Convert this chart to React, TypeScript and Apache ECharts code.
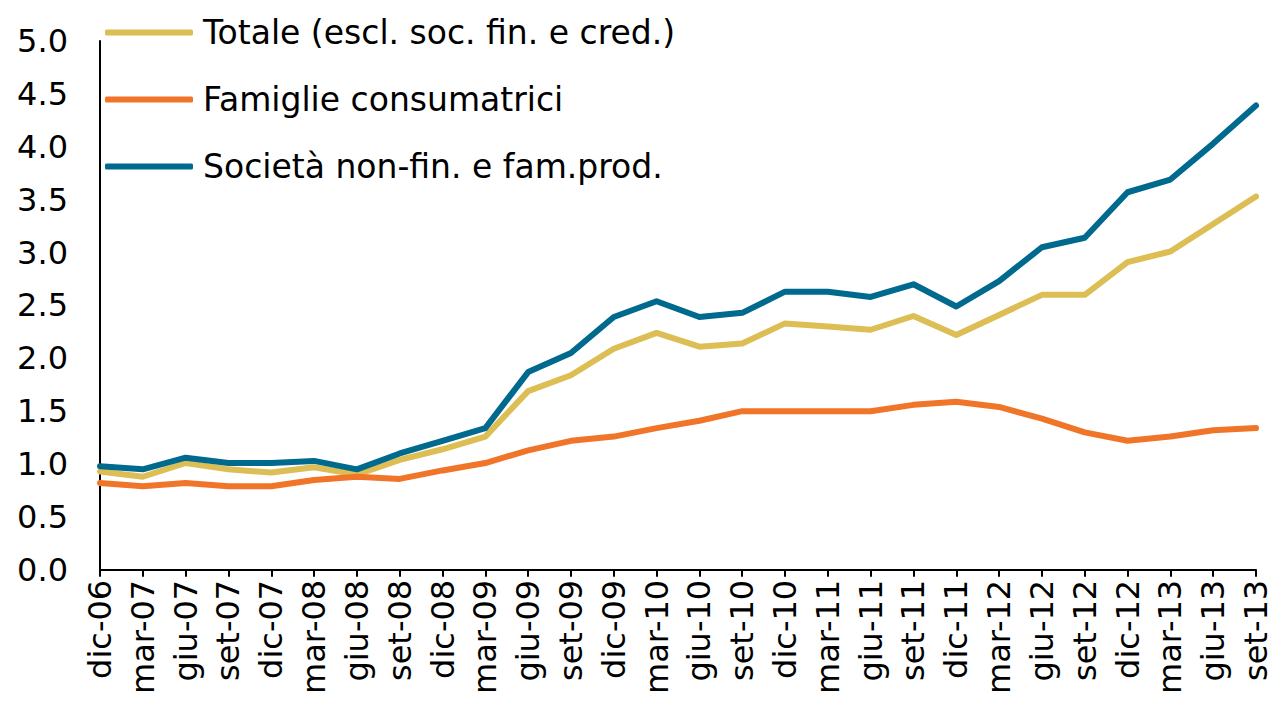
import React, { useEffect, useRef } from "react";
import * as echarts from "echarts";

const categories = [
  "dic-06", "mar-07", "giu-07", "set-07", "dic-07", "mar-08", "giu-08", "set-08",
  "dic-08", "mar-09", "giu-09", "set-09", "dic-09", "mar-10", "giu-10", "set-10",
  "dic-10", "mar-11", "giu-11", "set-11", "dic-11", "mar-12", "giu-12", "set-12",
  "dic-12", "mar-13", "giu-13", "set-13",
];

const totale = [
  0.93, 0.88, 1.01, 0.95, 0.92, 0.97, 0.9, 1.04,
  1.14, 1.26, 1.69, 1.84, 2.09, 2.24, 2.11, 2.14,
  2.33, 2.3, 2.27, 2.4, 2.22, 2.41, 2.6, 2.6,
  2.91, 3.01, 3.27, 3.53,
];

const famiglie = [
  0.82, 0.79, 0.82, 0.79, 0.79, 0.85, 0.88, 0.86,
  0.94, 1.01, 1.13, 1.22, 1.26, 1.34, 1.41, 1.5,
  1.5, 1.5, 1.5, 1.56, 1.59, 1.54, 1.43, 1.3,
  1.22, 1.26, 1.32, 1.34,
];

const societa = [
  0.98, 0.95, 1.06, 1.01, 1.01, 1.03, 0.95, 1.1,
  1.22, 1.34, 1.87, 2.05, 2.39, 2.54, 2.39, 2.43,
  2.63, 2.63, 2.58, 2.7, 2.49, 2.73, 3.05, 3.14,
  3.57, 3.69, 4.03, 4.39,
];

const seriesNames = [
  "Totale (escl. soc. fin. e cred.)",
  "Famiglie consumatrici",
  "Società non-fin. e fam.prod.",
];
const colors = ["#DCBE55", "#F07528", "#006A8E"];

export default function App() {
  const ref = useRef<HTMLDivElement>(null);
  useEffect(() => {
    if (!ref.current) return;
    const chart = echarts.init(ref.current, null, { renderer: "svg" });
    const font = "DejaVu Sans";
    const data = [totale, famiglie, societa];
    chart.setOption({
      animation: false,
      backgroundColor: "#ffffff",
      grid: { left: 92, right: 20, top: 33, bottom: 124 },
      legend: {
        orient: "vertical",
        left: 92,
        top: 3,
        icon: "roundRect",
        itemWidth: 88,
        itemHeight: 6,
        itemGap: 34,
        data: seriesNames,
        textStyle: {
          fontFamily: font,
          fontSize: 33,
          color: "#000",
          lineHeight: 32,
          padding: [0, 0, 0, 5],
        },
      },
      xAxis: {
        type: "category",
        data: categories,
        boundaryGap: false,
        axisLine: { lineStyle: { color: "#000", width: 2 } },
        axisTick: { show: true, length: 7, lineStyle: { color: "#000", width: 2 } },
        axisLabel: {
          rotate: 90,
          interval: 0,
          margin: 10,
          fontFamily: font,
          fontSize: 32,
          color: "#000",
        },
        splitLine: { show: false },
      },
      yAxis: {
        type: "value",
        min: 0,
        max: 5,
        interval: 0.5,
        axisLine: { show: true, lineStyle: { color: "#000", width: 2 } },
        axisTick: { show: false },
        splitLine: { show: false },
        axisLabel: {
          margin: 32,
          fontFamily: font,
          fontSize: 32,
          color: "#000",
          formatter: (v: number) => v.toFixed(1),
        },
      },
      series: seriesNames.map((name, i) => ({
        name,
        type: "line",
        data: data[i],
        showSymbol: false,
        symbol: "none",
        itemStyle: { color: colors[i] },
        lineStyle: { color: colors[i], width: 6, cap: "round", join: "round" },
      })),
    });
    return () => chart.dispose();
  }, []);
  return <div ref={ref} style={{ width: 1268, height: 689 }} />;
}
